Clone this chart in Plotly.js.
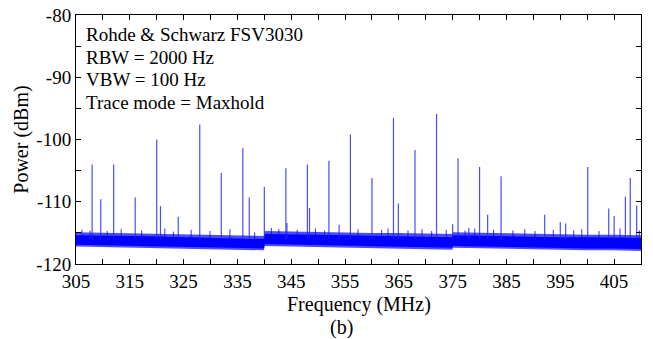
<!DOCTYPE html>
<html>
<head>
<meta charset="utf-8">
<script src="https://cdn.plot.ly/plotly-3.0.1.min.js"></script>
<style>html,body{margin:0;padding:0;background:#fff;}#chart{width:653px;height:339px;}</style>
</head>
<body>
<div id="chart"></div>
<script>
// Spectral lines (MHz, dBm peak)
const spikeFreq = [307.6, 308.0, 309.6, 312.0, 316.0, 320.0, 320.7, 324.0, 328.0, 332.0, 336.0, 337.2, 340.0,
  344.0, 344.2, 348.0, 348.4, 352.0, 353.9, 356.0, 360.0, 364.0, 364.9, 368.0, 372.0, 375.0, 376.0,
  378.0, 380.0, 381.5, 384.0, 392.1, 395.0, 396.0, 400.1, 404.0, 405.0, 407.1, 408.0, 409.2, 409.7];
const spikePeak = [-114.6, -104.0, -109.6, -104.0, -109.3, -100.0, -110.7, -112.4, -97.6, -105.4, -101.4, -109.3, -107.6,
  -104.6, -113.4, -104.0, -111.0, -103.4, -113.7, -99.2, -106.2, -96.5, -110.3, -101.7, -95.9, -113.6, -103.0,
  -114.2, -104.4, -112.1, -105.9, -112.1, -113.3, -113.5, -104.4, -111.1, -112.3, -109.2, -106.2, -110.6, -114.6];
const spikeBase = -116.0;

// small noise peaks poking out of the floor (MHz, dBm)
const grassFreq = [306.1, 310.8, 313.4, 317.2, 321.5, 323.1, 326.4, 329.9, 333.6, 338.2, 341.3, 342.7, 346.1, 349.5,
  351.2, 357.4, 361.8, 363.0, 366.7, 369.3, 371.1, 373.8, 377.3, 379.1, 382.6, 386.2, 388.4, 390.3, 393.7, 397.5,
  399.0, 402.2, 406.1];
const grassPeak = [-114.5, -114.7, -114.4, -114.6, -114.3, -114.8, -114.5, -114.7, -114.4, -114.9, -114.2, -114.4,
  -114.5, -114.3, -114.6, -114.4, -114.5, -114.3, -114.6, -114.4, -114.7, -114.5, -114.6, -114.3, -114.5, -114.6,
  -114.4, -114.7, -114.5, -114.6, -114.4, -114.7, -114.3];

// Noise floor envelope (MHz, dBm)
const bandFreq = [305, 310, 315, 320, 325, 330, 335, 339.9, 340.1, 345, 350, 355, 360, 365, 370, 374.9,
  375.1, 380, 385, 390, 395, 400, 405, 410];
const bandTop = [-115.4, -115.4, -115.5, -115.6, -115.7, -115.8, -115.9, -116.0, -115.2, -115.2, -115.3, -115.4,
  -115.5, -115.5, -115.6, -115.7, -115.4, -115.5, -115.6, -115.6, -115.7, -115.7, -115.8, -115.8];
const bandBottom = [-116.9, -117.0, -117.1, -117.2, -117.3, -117.3, -117.4, -117.5, -116.8, -116.9, -117.0, -117.0,
  -117.1, -117.2, -117.3, -117.4, -117.1, -117.2, -117.3, -117.3, -117.4, -117.5, -117.5, -117.6];
// fuzzy fringe around the floor
const fringeTop = [-114.9, -115.0, -115.0, -115.1, -115.2, -115.3, -115.4, -115.5, -114.7, -114.8, -114.9, -114.9,
  -115.0, -115.0, -115.1, -115.2, -114.9, -115.0, -115.1, -115.2, -115.2, -115.3, -115.3, -115.4];
const fringeBottom = [-117.2, -117.3, -117.4, -117.5, -117.6, -117.6, -117.7, -117.8, -117.1, -117.2, -117.3, -117.3,
  -117.4, -117.5, -117.6, -117.7, -117.4, -117.5, -117.6, -117.6, -117.7, -117.8, -117.8, -117.9];

const xTickVals = [305,310,315,320,325,330,335,340,345,350,355,360,365,370,375,380,385,390,395,400,405,410];
const xTickText = ['305','','315','','325','','335','','345','','355','','365','','375','','385','','395','','405',''];
const yTickVals = [-120,-115,-110,-105,-100,-95,-90,-85,-80];
const yTickText = ['-120','','-110','','-100','','-90','','-80'];

const infoLines = ['Rohde &amp; Schwarz FSV3030', 'RBW = 2000 Hz', 'VBW = 100 Hz', 'Trace mode = Maxhold'];

const sx = [], sy = [];
spikeFreq.forEach((f, i) => { sx.push(f, f, null); sy.push(spikeBase, spikePeak[i], null); });
const gx = [], gy = [];
grassFreq.forEach((f, i) => { gx.push(f, f, null); gy.push(spikeBase, grassPeak[i], null); });

const traces = [
  {x: bandFreq, y: fringeBottom, type: 'scatter', mode: 'lines', line: {width: 0}, hoverinfo: 'skip', showlegend: false},
  {x: bandFreq, y: fringeTop, type: 'scatter', mode: 'lines', line: {width: 0}, fill: 'tonexty',
   fillcolor: 'rgba(0,0,255,0.7)', hoverinfo: 'skip', showlegend: false},
  {x: bandFreq, y: bandBottom, type: 'scatter', mode: 'lines', line: {width: 0}, hoverinfo: 'skip', showlegend: false},
  {x: bandFreq, y: bandTop, type: 'scatter', mode: 'lines', line: {width: 0}, fill: 'tonexty',
   fillcolor: 'rgb(0,0,255)', hoverinfo: 'skip', showlegend: false},
  {x: gx, y: gy, type: 'scatter', mode: 'lines', line: {color: 'rgba(0,0,255,0.8)', width: 1},
   connectgaps: false, showlegend: false},
  {x: sx, y: sy, type: 'scatter', mode: 'lines', line: {color: 'rgba(30,30,255,0.8)', width: 1.2},
   connectgaps: false, showlegend: false}
];

const fam = 'Liberation Serif';
const axisCommon = {showgrid: false, zeroline: false, showline: true, linecolor: '#000', linewidth: 1,
  mirror: 'ticks', ticks: 'inside', ticklen: 5, tickcolor: '#000', tickwidth: 1,
  tickfont: {family: fam, size: 19, color: '#000'}, tickmode: 'array'};

const infoY = [0.9197, 0.8293, 0.739, 0.6486];
const annotations = infoLines.map((t, i) => ({text: t, xref: 'paper', yref: 'paper', x: 0.014, y: infoY[i],
  xanchor: 'left', yanchor: 'middle', align: 'left', showarrow: false, font: {family: fam, size: 19, color: '#000'}}));
annotations.push(
  {text: 'Frequency (MHz)', xref: 'paper', yref: 'paper', x: 0.5, y: -0.163, xanchor: 'center', yanchor: 'middle',
   borderpad: 0, showarrow: false, font: {family: fam, size: 20, color: '#000'}},
  {text: '(b)', xref: 'paper', yref: 'paper', x: 0.47, y: -0.256, xanchor: 'center', yanchor: 'middle',
   borderpad: 0, showarrow: false, font: {family: fam, size: 20, color: '#000'}},
  {text: 'Power (dBm)', xref: 'paper', yref: 'paper', x: -0.097, y: 0.5, xanchor: 'center', yanchor: 'middle',
   textangle: -90, showarrow: false, font: {family: fam, size: 20, color: '#000'}}
);

const layout = {
  width: 653, height: 339,
  margin: {l: 76, r: 12, t: 15, b: 75},
  paper_bgcolor: '#fff', plot_bgcolor: '#fff',
  font: {family: fam, color: '#000'},
  xaxis: Object.assign({}, axisCommon, {range: [305, 410], tickvals: xTickVals, ticktext: xTickText}),
  yaxis: Object.assign({}, axisCommon, {range: [-120, -80], tickvals: yTickVals, ticktext: yTickText}),
  annotations: annotations
};

Plotly.newPlot('chart', traces, layout, {staticPlot: true, displayModeBar: false});
</script>
</body>
</html>
